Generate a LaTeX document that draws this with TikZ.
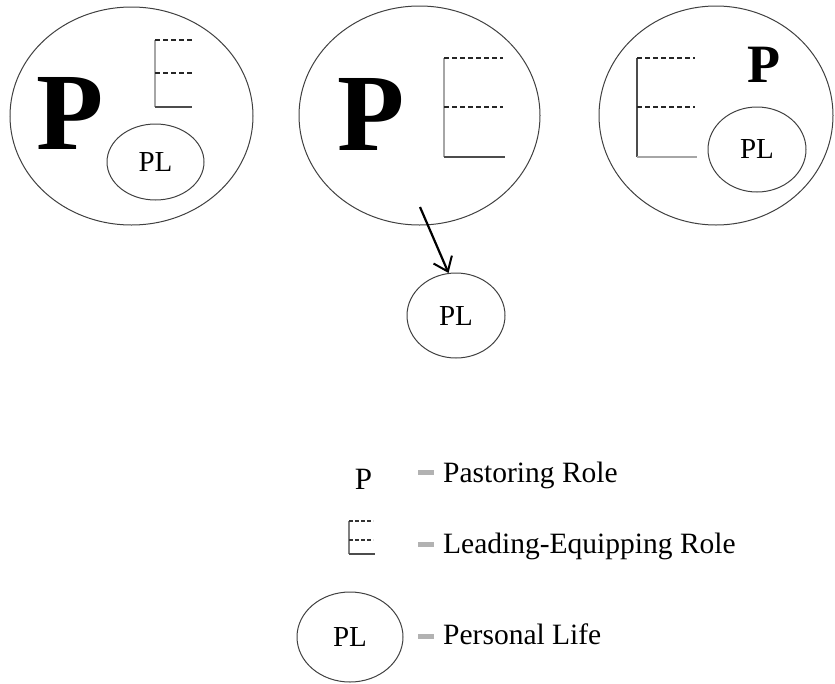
\documentclass[tikz,border=0pt]{standalone}
\usepackage{fontspec}
\setmainfont{Liberation Serif}
\usetikzlibrary{shapes.geometric,arrows.meta}
\begin{document}
\begin{tikzpicture}[x=1pt,y=-1pt,
  oval/.style={draw=black!75, line width=1pt, ellipse, inner sep=0pt},
  plfont/.style={font=\fontsize{29}{29}\selectfont, text=black},
  bigP/.style={inner sep=0pt, font=\fontsize{110}{110}\selectfont\bfseries},
  dashline/.style={draw=black!85, line width=1.2pt, dash pattern=on 5pt off 3pt},
  smalldash/.style={draw=black!80, line width=1.2pt, dash pattern=on 3.5pt off 2.5pt},
  solidline/.style={draw=black!70, line width=1.4pt},
  greyline/.style={draw=black!35, line width=1.8pt},
  eqbar/.style={fill=black!30, minimum width=16pt, minimum height=5pt, inner sep=0pt},
  legtext/.style={anchor=base west, inner sep=0pt, font=\fontsize{29.5}{30}\selectfont, text=black}
]
\useasboundingbox (0,0) rectangle (835,683);

% ---- ellipse 1 ----
\node[oval, minimum width=243pt, minimum height=218pt] (e1) at (131.5,116) {};
\node[bigP] (p1) at (70,113.5) {P};
\node[oval, plfont, minimum width=97pt, minimum height=76pt] (pl1) at (155.5,162) {PL};
\draw[greyline] (155,40) -- (155,107);
\draw[dashline] (155,40) -- (192,40);
\draw[dashline] (155,73) -- (192,73);
\draw[solidline] (155,107) -- (192,107);

% ---- ellipse 2 ----
\node[oval, minimum width=241pt, minimum height=219pt] (e2) at (419.5,115.5) {};
\node[bigP] (p2) at (371,114) {P};
\draw[greyline] (444,58) -- (444,157);
\draw[dashline] (444,58) -- (503,58);
\draw[dashline] (444,107) -- (503,107);
\draw[solidline] (444,157) -- (505,157);

% ---- ellipse 3 ----
\node[oval, minimum width=234pt, minimum height=219pt] (e3) at (716,115.5) {};
\node[inner sep=0pt, font=\fontsize{54}{54}\selectfont\bfseries] (p3) at (763.5,65) {P};
\node[oval, plfont, minimum width=98pt, minimum height=85pt] (pl3) at (757,149.5) {PL};
\draw[solidline] (637,58) -- (637,157);
\draw[dashline] (637,58) -- (695,58);
\draw[dashline] (637,107) -- (695,107);
\draw[greyline] (637,157) -- (697,157);

% ---- detached personal life ----
\node[oval, plfont, minimum width=98pt, minimum height=85pt] (pl2) at (456,315.5) {PL};
\coordinate (astart) at (420,207);
\draw[black, line width=2.2pt, -{Straight Barb[length=13pt,width=20pt,line width=2pt]}] (astart) -- (pl2.100);

% ---- legend ----
\node[inner sep=0pt, font=\fontsize{31}{31}\selectfont] (lp) at (363.5,479) {P};
\draw[greyline, draw=black!50] (349,521) -- (349,554);
\draw[smalldash] (349,521) -- (373,521);
\draw[smalldash] (349,540) -- (373,540);
\draw[solidline] (349,554) -- (375,554);
\node[oval, plfont, minimum width=106pt, minimum height=90pt] (lpl) at (350,637) {PL};

\node[eqbar] (b1) at (426,472) {};
\node[eqbar] (b2) at (426,544) {};
\node[eqbar] (b3) at (426,636) {};
\node[legtext] (t1) at (443,482) {Pastoring Role};
\node[legtext] (t2) at (443,553) {Leading-Equipping Role};
\node[legtext] (t3) at (443,644) {Personal Life};
\end{tikzpicture}
\end{document}
